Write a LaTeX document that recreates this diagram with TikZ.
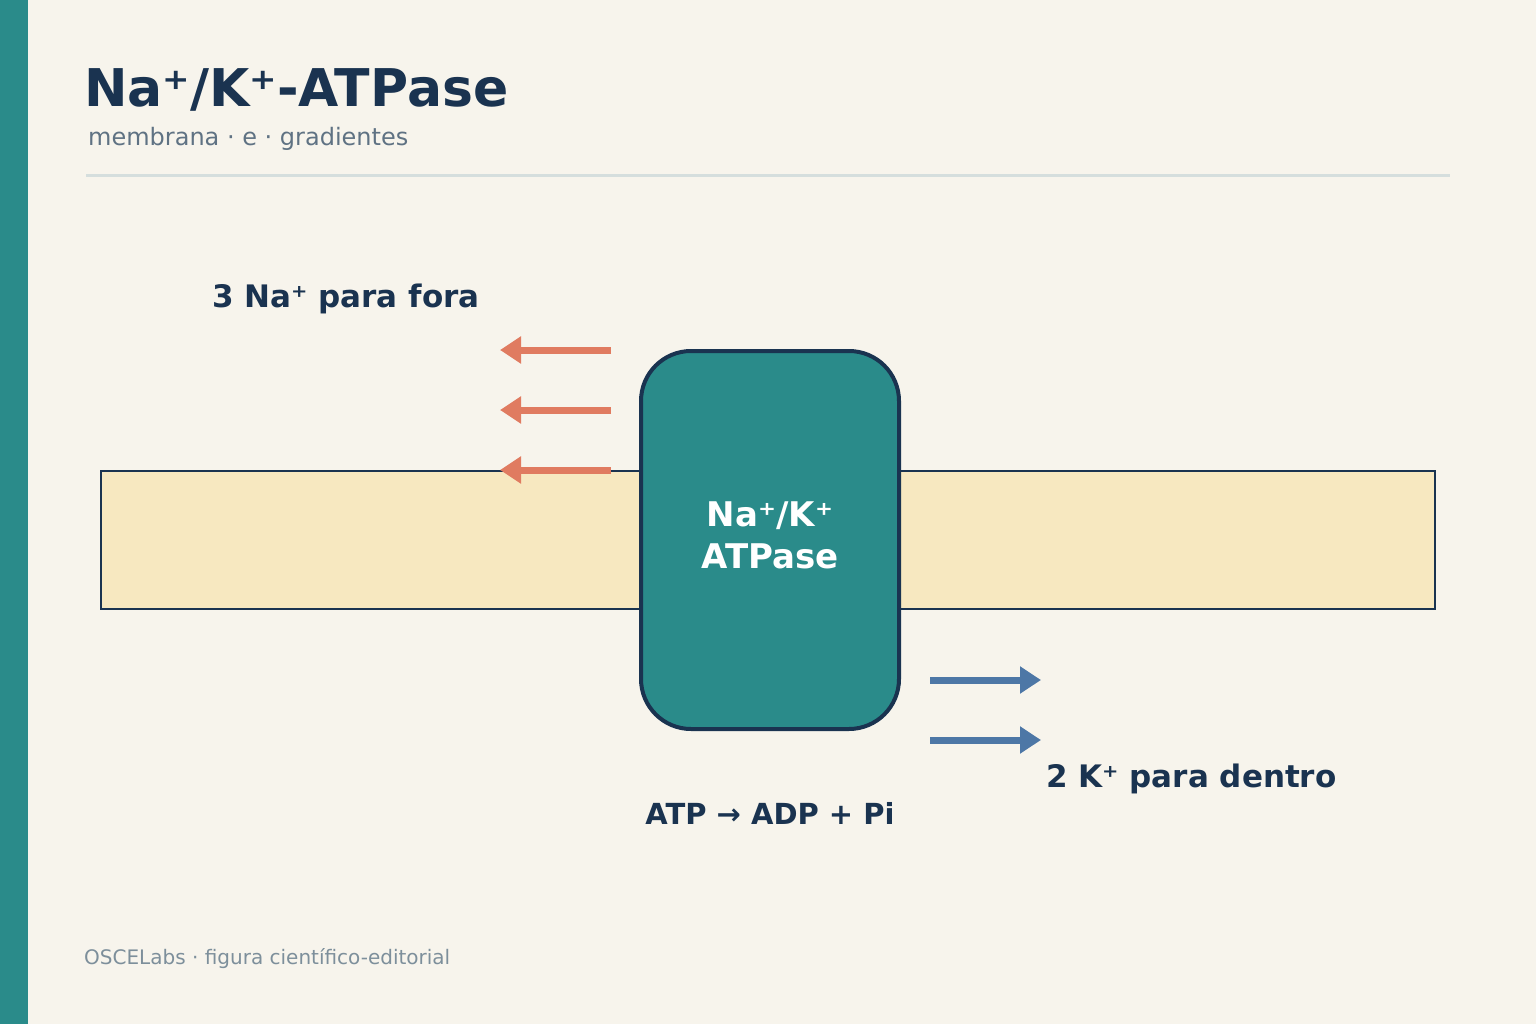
\documentclass[tikz,border=0pt]{standalone}
\usepackage{fontspec}
\setmainfont{DejaVu Sans}
\usetikzlibrary{arrows.meta}

\definecolor{paper}{HTML}{F7F4EC}
\definecolor{pumpteal}{HTML}{2A8B8A}
\definecolor{navy}{HTML}{1A3350}
\definecolor{lipid}{HTML}{F7E8C0}
\definecolor{naorange}{HTML}{E07B60}
\definecolor{kblue}{HTML}{4D77A6}
\definecolor{subgray}{HTML}{5F7283}
\definecolor{footgray}{HTML}{7D8F9B}
\definecolor{rulegray}{HTML}{D5DEDD}

\begin{document}
\begin{tikzpicture}[x=1pt,y=-1pt,
  txt/.style={inner sep=0pt,text=navy,font=\bfseries\fontsize{31}{37}\selectfont},
  membrane/.style={draw=navy,line width=2.5pt,fill=lipid,rectangle,inner sep=0pt},
  pump/.style={draw=navy,line width=4pt,fill=pumpteal,rectangle,rounded corners=50pt,inner sep=0pt},
  naflow/.style={draw=naorange,line width=7pt,-{Triangle[length=21pt,width=26pt]}},
  kflow/.style={draw=kblue,line width=7pt,-{Triangle[length=21pt,width=26pt]}}]

  % page and side band
  \fill[paper] (0,0) rectangle (1536,1024);
  \fill[pumpteal] (0,0) rectangle (28,1024);

  % heading
  \node[txt,anchor=base west,font=\bfseries\fontsize{52}{60}\selectfont] (title) at (84,107) {Na⁺/K⁺-ATPase};
  \node[txt,anchor=base west,text=subgray,font=\fontsize{24}{28}\selectfont] (sub) at (88,146) {membrana · e · gradientes};
  \draw[rulegray,line width=3pt] (86,176) -- (1450,176);

  % membrane and pump
  \node[membrane,minimum width=1334pt,minimum height=138pt] (mem) at (768,540) {};
  \node[pump,minimum width=258pt,minimum height=378pt] (pump) at (770,540) {};
  \node[txt,text=white,align=center,font=\bfseries\fontsize{34}{42}\selectfont] (pumplabel) at (770,535) {Na⁺/K⁺\\ATPase};

  % ion flows
  \coordinate (na1) at (611,350); \coordinate (na1e) at (500,350);
  \coordinate (na2) at (611,410); \coordinate (na2e) at (500,410);
  \coordinate (na3) at (611,470); \coordinate (na3e) at (500,470);
  \coordinate (k1) at (930,680); \coordinate (k1e) at (1041,680);
  \coordinate (k2) at (930,740); \coordinate (k2e) at (1041,740);

  \path
    (na1) edge[naflow] (na1e)
    (na2) edge[naflow] (na2e)
    (na3) edge[naflow] (na3e)
    (k1) edge[kflow] (k1e)
    (k2) edge[kflow] (k2e)
;

  % labels
  \node[txt,anchor=base west] (nalabel) at (212,307) {3 Na⁺ para fora};
  \node[txt,anchor=base west] (klabel) at (1046,787) {2 K⁺ para dentro};
  \node[txt,anchor=base,font=\bfseries\fontsize{29}{35}\selectfont] (atp) at (770,824) {ATP → ADP + Pi};

  % footer
  \node[txt,anchor=base west,text=footgray,font=\fontsize{20}{24}\selectfont] (foot) at (84,964) {OSCELabs · figura científico-editorial};
\end{tikzpicture}
\end{document}
